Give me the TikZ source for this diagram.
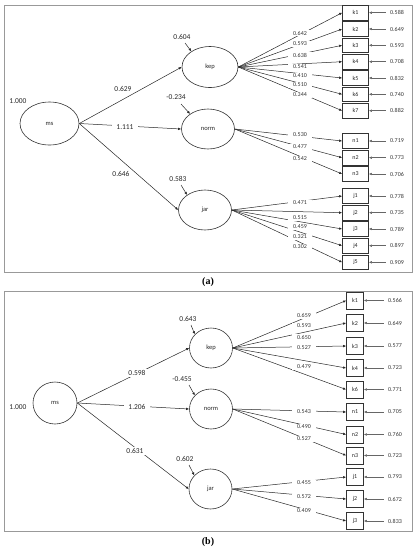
\documentclass[tikz,border=0pt]{standalone}
\usepackage{fontspec}
\setmainfont{Carlito}
\newfontfamily\capfont{Liberation Serif}
\usetikzlibrary{arrows.meta,shapes.geometric}
\tikzset{
  lat/.style={ellipse, draw=black!80, line width=0.6pt, inner sep=0pt, font=\fontsize{6.5}{7}\selectfont, text=black!85},
  obsA/.style={rectangle, draw=black!80, line width=0.7pt, minimum width=26pt, minimum height=14.5pt, inner sep=0pt, font=\fontsize{6}{7}\selectfont, text=black!85},
  obsB/.style={rectangle, draw=black!80, line width=0.7pt, minimum width=17pt, minimum height=17pt, inner sep=0pt, font=\fontsize{6}{7}\selectfont, text=black!85},
  pth/.style={-{Latex[length=3pt,width=2.6pt]}, line width=0.5pt, black!85},
  errar/.style={-{Latex[length=3pt,width=2.6pt]}, line width=0.45pt, black!60},
  biglab/.style={font=\fontsize{7.5}{8}\selectfont, text=black!85, inner sep=1pt},
  wbig/.style={biglab, fill=white, inner xsep=4pt},
  errlab/.style={font=\fontsize{6}{7}\selectfont, text=black!80, inner xsep=4pt, inner ysep=1pt},
  loadlab/.style={font=\fontsize{6}{7}\selectfont, text=black!80, fill=white, inner xsep=5pt, inner ysep=1pt},
  frm/.style={draw=black!40, line width=0.8pt},
  captext/.style={font=\capfont\bfseries\fontsize{10}{11}\selectfont}
}
\begin{document}
\begin{tikzpicture}[x=1pt,y=-1pt]
\useasboundingbox (0,0) rectangle (416,550);
% ================= panel (a) =================
\draw[frm] (4,5) rectangle (412,272);
\node[lat, minimum width=59pt, minimum height=43pt] (ams) at (49.5,123.5) {ms};
\node[lat, minimum width=56pt, minimum height=41pt] (akep) at (210,67) {kep};
\node[lat, minimum width=53pt, minimum height=40pt] (anorm) at (208,129) {norm};
\node[lat, minimum width=53pt, minimum height=40pt] (ajar) at (205,210) {jar};
\node[biglab] (a1000) at (18,101) {1.000};
% structural paths
\draw[pth] (ams.east) -- (akep.west);
\draw[pth] (ams.east) -- (anorm.west);
\draw[pth] (ams.east) -- (ajar.west);
\node[biglab] (a629) at (123,89) {0.629};
\node[wbig] (a1111) at (125,127.5) {1.111};
\node[biglab] (a646) at (121,174) {0.646};
% residuals of latent
\node[biglab] (ar1) at (182,37) {0.604};
\coordinate (ar1s) at (185,43);
\draw[pth] (ar1s) -- (akep.140);
\node[biglab] (ar2) at (176,97) {-0.234};
\coordinate (ar2s) at (181,104);
\draw[pth] (ar2s) -- (anorm.140);
\node[biglab] (ar3) at (178,179) {0.583};
\coordinate (ar3s) at (181,185);
\draw[pth] (ar3s) -- (ajar.140);
% indicators
\foreach \n/\y/\e/\s in {k1/12.7/0.588/kep, k2/29/0.649/kep, k3/45.3/0.593/kep, k4/61.7/0.708/kep, k5/78/0.832/kep, k6/94.3/0.740/kep, k7/110.7/0.882/kep,
  n1/141/0.719/norm, n2/157.7/0.773/norm, n3/174/0.706/norm,
  j1/196/0.778/jar, j2/212.7/0.735/jar, j3/229/0.789/jar, j4/245.7/0.897/jar, j5/262.3/0.909/jar}{
  \node[obsA] (a\n) at (355.5,\y) {\n};
  \node[errlab] (ae\n) at (397,\y) {\e};
  \draw[errar] (ae\n.west) -- (a\n.east);
  \draw[pth] (a\s.east) -- (a\n.west);
}
\foreach \y/\v [count=\i] in {33/0.642, 44/0.593, 55/0.638, 66.5/0.541, 76/0.410, 85/0.510, 95/0.344,
  135/0.530, 147/0.477, 159/0.542,
  203/0.471, 218/0.515, 227/0.459, 237/0.321, 247/0.302}{
  \node[loadlab] (al\i) at (300,\y) {\v};
}
\node[captext] (capa) at (208,282) {(a)};
% ================= panel (b) =================
\draw[frm] (4,291) rectangle (412,531);
\node[lat, minimum width=44pt, minimum height=42pt] (bms) at (55,403) {ms};
\node[lat, minimum width=43pt, minimum height=40pt] (bkep) at (211,348) {kep};
\node[lat, minimum width=43pt, minimum height=40pt] (bnorm) at (211,409) {norm};
\node[lat, minimum width=43pt, minimum height=40pt] (bjar) at (210.5,489) {jar};
\node[biglab] (b1000) at (18,407) {1.000};
\draw[pth] (bms.east) -- (bkep.west);
\draw[pth] (bms.east) -- (bnorm.west);
\draw[pth] (bms.east) -- (bjar.west);
\node[wbig] (b598) at (137,373) {0.598};
\node[wbig] (b1206) at (137,407) {1.206};
\node[wbig] (b631) at (135,451) {0.631};
\node[biglab] (br1) at (188,319) {0.643};
\coordinate (br1s) at (191,325);
\draw[pth] (br1s) -- (bkep.140);
\node[biglab] (br2) at (182,379) {-0.455};
\coordinate (br2s) at (189,385);
\draw[pth] (br2s) -- (bnorm.140);
\node[biglab] (br3) at (185,459) {0.602};
\coordinate (br3s) at (189,465);
\draw[pth] (br3s) -- (bjar.140);
\foreach \n/\y/\e/\s in {k1/300.5/0.566/kep, k2/323/0.649/kep, k3/346/0.577/kep, k4/368/0.723/kep, k6/389.5/0.771/kep,
  n1/412/0.705/norm, n2/434.5/0.760/norm, n3/455.5/0.723/norm,
  j1/477/0.793/jar, j2/499/0.672/jar, j3/521/0.833/jar}{
  \node[obsB] (b\n) at (355,\y) {\n};
  \node[errlab] (be\n) at (395,\y) {\e};
  \draw[errar] (be\n.west) -- (b\n.east);
  \draw[pth] (b\s.east) -- (b\n.west);
}
\foreach \y/\v [count=\i] in {315.5/0.659, 326/0.593, 337/0.650, 348/0.527, 367/0.479,
  412/0.543, 427/0.490, 439/0.527,
  483/0.455, 497/0.572, 511/0.409}{
  \node[loadlab] (bl\i) at (304,\y) {\v};
}
\node[captext] (capb) at (208,542) {(b)};
\end{tikzpicture}
\end{document}
